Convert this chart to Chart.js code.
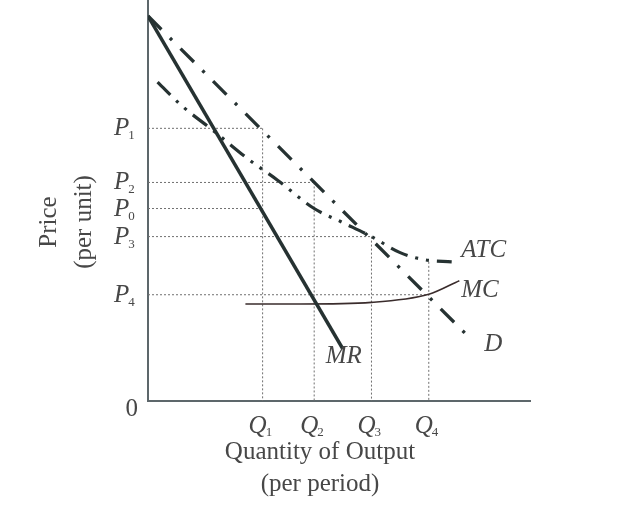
<!DOCTYPE html>
<html>
<head>
<meta charset="utf-8">
<script src="https://cdn.jsdelivr.net/npm/chart.js@4.4.1/dist/chart.umd.min.js"></script>
<style>
  html, body { margin: 0; padding: 0; background: #fff; }
  canvas { display: block; }
</style>
</head>
<body>
<canvas id="monoChart" width="628" height="510"></canvas>
<script>
// Curves (quantity on x, price on y, both in 0..10 units)
const demandQ = [0, 8.5];
const demandP = [9.6, 1.5];
const mrQ = [0, 5.1];
const mrP = [9.6, 1.3];
const atcQ = [0.25, 0.9, 1.7, 2.6, 3.4, 4.35, 5.1, 5.85, 6.6, 7.25, 7.95];
const atcP = [7.95, 7.35, 6.75, 6.05, 5.5, 4.8, 4.45, 4.1, 3.7, 3.52, 3.47];
const mcQ = [2.55, 4.0, 5.85, 7.35, 8.15];
const mcP = [2.42, 2.42, 2.46, 2.66, 3.0];

// Price levels and the quantity where each dotted guide stops
const priceSubs = ['1', '2', '0', '3', '4'];
const priceValues = [6.8, 5.45, 4.8, 4.1, 2.65];
const priceGuideEnd = [3.0, 4.35, 3.0, 5.85, 7.35];

// Quantity levels and the price where each dotted guide starts
const qtySubs = ['1', '2', '3', '4'];
const qtyValues = [3.0, 4.35, 5.85, 7.35];
const qtyGuideTop = [6.8, 5.45, 4.1, 3.47];

const curveLabels = [
  { text: 'ATC', q: 8.2, p: 3.6 },
  { text: 'MC', q: 8.2, p: 2.6 },
  { text: 'D', q: 8.8, p: 1.25 },
  { text: 'MR', q: 4.65, p: 0.95 }
];

const ink = '#263232';
const guideColor = '#707070';
const textColor = '#474747';

function pts(xs, ys) {
  return xs.map((x, i) => ({ x: x, y: ys[i] }));
}

const datasets = [
  { data: pts(mrQ, mrP), borderColor: ink, borderWidth: 3.6 },
  { data: pts(demandQ, demandP), borderColor: ink, borderWidth: 3.3, borderDash: [19, 12, 3, 12] },
  { data: pts(atcQ, atcP), borderColor: ink, borderWidth: 3.2, borderDash: [18, 8, 3, 8, 3, 8], cubicInterpolationMode: 'monotone' },
  { data: pts(mcQ, mcP), borderColor: '#3a2c2c', borderWidth: 1.6, cubicInterpolationMode: 'monotone' }
];

priceValues.forEach((p, i) => {
  datasets.push({ data: [{ x: 0, y: p }, { x: priceGuideEnd[i], y: p }], borderColor: guideColor, borderWidth: 1, borderDash: [2, 2] });
});
qtyValues.forEach((q, i) => {
  datasets.push({ data: [{ x: q, y: qtyGuideTop[i] }, { x: q, y: 0 }], borderColor: guideColor, borderWidth: 1, borderDash: [2, 2] });
});

datasets.forEach(d => {
  d.showLine = true;
  d.pointRadius = 0;
  d.fill = false;
});

// Draws P/Q labels with subscripts, curve names and axis titles
const textPlugin = {
  id: 'diagramText',
  afterDraw(chart) {
    const ctx = chart.ctx;
    const xs = chart.scales.x;
    const ys = chart.scales.y;
    const main = "italic 25px 'Liberation Serif'";
    const sub = "13px 'Liberation Serif'";
    ctx.save();
    ctx.fillStyle = textColor;
    ctx.textBaseline = 'alphabetic';

    priceValues.forEach((p, i) => {
      const y = ys.getPixelForValue(p);
      ctx.font = main;
      ctx.textAlign = 'left';
      const x0 = xs.left - 34;
      ctx.fillText('P', x0, y + 7);
      const w = ctx.measureText('P').width;
      ctx.font = sub;
      ctx.fillText(priceSubs[i], x0 + w - 1, y + 11);
    });

    qtyValues.forEach((q, i) => {
      const x = xs.getPixelForValue(q);
      ctx.font = main;
      ctx.textAlign = 'left';
      const x0 = x - 14;
      ctx.fillText('Q', x0, ys.bottom + 32);
      const w = ctx.measureText('Q').width;
      ctx.font = sub;
      ctx.fillText(qtySubs[i], x0 + w - 1, ys.bottom + 35);
    });

    ctx.font = "25px 'Liberation Serif'";
    ctx.textAlign = 'right';
    ctx.fillText('0', xs.left - 10, ys.bottom + 15);

    ctx.font = main;
    ctx.textAlign = 'left';
    curveLabels.forEach(l => {
      ctx.fillText(l.text, xs.getPixelForValue(l.q), ys.getPixelForValue(l.p));
    });

    ctx.font = "25px 'Liberation Serif'";
    ctx.textAlign = 'center';
    ctx.fillText('Quantity of Output', 320, 459);
    ctx.fillText('(per period)', 320, 491);

    ctx.translate(47, 222);
    ctx.rotate(-Math.PI / 2);
    ctx.fillText('Price', 0, 9);
    ctx.fillText('(per unit)', 0, 44);
    ctx.restore();
  }
};

const ctx = document.getElementById('monoChart').getContext('2d');
new Chart(ctx, {
  type: 'scatter',
  data: { datasets: datasets },
  options: {
    responsive: false,
    animation: false,
    layout: { padding: { left: 148, right: 98, top: 0, bottom: 109 } },
    plugins: { legend: { display: false }, tooltip: { enabled: false } },
    scales: {
      x: {
        type: 'linear', min: 0, max: 10,
        ticks: { display: false },
        grid: { display: false, drawTicks: false },
        border: { display: true, color: '#5d676b', width: 2 }
      },
      y: {
        type: 'linear', min: 0, max: 10,
        ticks: { display: false },
        grid: { display: false, drawTicks: false },
        border: { display: true, color: '#5d676b', width: 2 }
      }
    }
  },
  plugins: [textPlugin]
});
</script>
</body>
</html>
